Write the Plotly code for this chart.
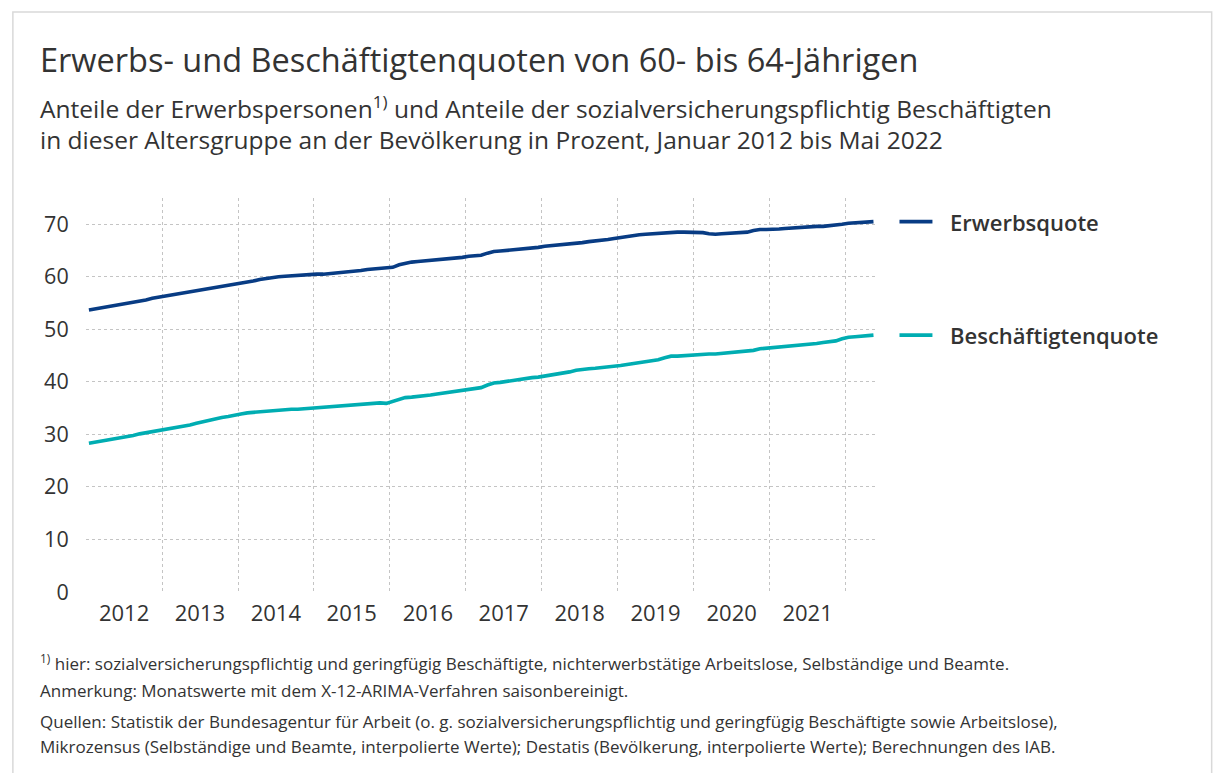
import pandas as pd
import plotly.graph_objects as go

# ---- data (Jan 2012 .. May 2022, monthly, %) ----
erwerbsquote = [
    53.7, 53.9, 54.1, 54.3, 54.5, 54.7, 55.0, 55.2, 55.4, 55.6, 55.9, 56.1,
    56.3, 56.5, 56.7, 56.9, 57.1, 57.3, 57.5, 57.7, 57.9, 58.1, 58.3, 58.5,
    58.7, 59.0, 59.2, 59.5, 59.7, 59.9, 60.0, 60.1, 60.2, 60.3, 60.3, 60.4,
    60.5, 60.5, 60.6, 60.7, 60.8, 60.9, 61.0, 61.2, 61.4, 61.5, 61.6, 61.7,
    61.8, 62.3, 62.6, 62.8, 62.9, 63.0, 63.1, 63.2, 63.4, 63.5, 63.6, 63.7,
    63.9, 64.0, 64.1, 64.5, 64.8, 64.9, 65.0, 65.1, 65.3, 65.4, 65.5, 65.6,
    65.8, 65.9, 66.0, 66.1, 66.3, 66.4, 66.5, 66.7, 66.8, 67.0, 67.1, 67.3,
    67.5, 67.7, 67.8, 68.0, 68.1, 68.2, 68.3, 68.4, 68.5, 68.5, 68.5, 68.5,
    68.5, 68.4, 68.2, 68.1, 68.2, 68.3, 68.3, 68.4, 68.5, 68.8, 69.0, 69.0,
    69.0, 69.1, 69.2, 69.3, 69.4, 69.5, 69.5, 69.6, 69.6, 69.7, 69.8, 70.0,
    70.2, 70.3, 70.4, 70.4, 70.5,
]
beschaeftigtenquote = [
    28.3, 28.5, 28.7, 28.9, 29.2, 29.4, 29.6, 29.8, 30.1, 30.3, 30.5, 30.8,
    31.0, 31.2, 31.4, 31.6, 31.8, 32.1, 32.4, 32.6, 32.9, 33.2, 33.4, 33.7,
    33.9, 34.1, 34.2, 34.4, 34.5, 34.6, 34.7, 34.7, 34.8, 34.8, 34.9, 35.0,
    35.0, 35.1, 35.2, 35.3, 35.4, 35.5, 35.6, 35.8, 35.9, 36.0, 36.0, 35.9,
    36.3, 36.7, 37.0, 37.1, 37.2, 37.4, 37.5, 37.7, 37.9, 38.1, 38.3, 38.4,
    38.6, 38.8, 38.9, 39.4, 39.8, 39.9, 40.1, 40.3, 40.4, 40.6, 40.8, 40.9,
    41.1, 41.3, 41.4, 41.6, 41.9, 42.2, 42.4, 42.5, 42.6, 42.7, 42.9, 43.0,
    43.1, 43.3, 43.5, 43.7, 43.8, 44.0, 44.2, 44.6, 44.9, 44.9, 45.0, 45.1,
    45.1, 45.2, 45.3, 45.3, 45.4, 45.5, 45.6, 45.7, 45.8, 46.0, 46.3, 46.4,
    46.5, 46.6, 46.7, 46.8, 46.9, 47.1, 47.2, 47.3, 47.5, 47.6, 47.8, 48.2,
    48.5, 48.6, 48.7, 48.8, 48.9,
]
series_names = ["Erwerbsquote", "Beschäftigtenquote"]
y_ticks = [0, 10, 20, 30, 40, 50, 60, 70]
year_labels = ["2012", "2013", "2014", "2015", "2016", "2017", "2018", "2019", "2020", "2021"]

months = pd.date_range("2012-01-01", periods=len(erwerbsquote), freq="MS") + pd.Timedelta(days=14)
year_label_pos = [f"{y}-07-02" for y in year_labels]

# ---- styling / layout (page pixel coordinates, figure sits at an 8px body margin) ----
OFF = 8
W, H = 1222 - 2 * OFF, 781 - 2 * OFF
L, R, T, B = 85.7 - OFF, 877.5 - OFF, 198.3 - OFF, 591.7 - OFF
FONT = "Open Sans"
TXT = "#333333"
GRID = "#c4c4c4"
COLORS = ["#083c84", "#00adb2"]


def px(x):
    return (x - OFF - L) / (R - L)


def py(y):
    return (B - (y - OFF)) / (B - T)


fig = go.Figure()
for name, vals, col in zip(series_names, [erwerbsquote, beschaeftigtenquote], COLORS):
    fig.add_trace(go.Scatter(x=months, y=vals, mode="lines", name=name,
                             line=dict(color=col, width=3.6), showlegend=False))
    # end-label legend
    fig.add_shape(type="line", xref="paper", yref="y", x0=px(900), x1=px(933),
                  y0=vals[-1], y1=vals[-1], line=dict(color=col, width=3.6))
    fig.add_annotation(xref="paper", yref="y", x=px(949), y=vals[-1], text=name,
                       showarrow=False, xanchor="left", yanchor="middle",
                       font=dict(family=FONT, size=22, color=TXT, weight=600))

texts = [
    (60, "Erwerbs- und Beschäftigtenquoten von 60- bis 64-Jährigen", 32.5),
    (108, "Anteile der Erwerbspersonen<sup>1)</sup> und Anteile der sozialversicherungspflichtig Beschäftigten", 24.5),
    (140, "in dieser Altersgruppe an der Bevölkerung in Prozent, Januar 2012 bis Mai 2022", 24.5),
    (662, "<sup>1)</sup> hier: sozialversicherungspflichtig und geringfügig Beschäftigte, nichterwerbstätige Arbeitslose, Selbständige und Beamte.", 17),
    (690, "Anmerkung: Monatswerte mit dem X-12-ARIMA-Verfahren saisonbereinigt.", 17),
    (721, "Quellen: Statistik der Bundesagentur für Arbeit (o. g. sozialversicherungspflichtig und geringfügig Beschäftigte sowie Arbeitslose),", 17),
    (746, "Mikrozensus (Selbständige und Beamte, interpolierte Werte); Destatis (Bevölkerung, interpolierte Werte); Berechnungen des IAB.", 17),
]
for yy, t, s in texts:
    fig.add_annotation(xref="paper", yref="paper", x=px(38), y=py(yy), text=t,
                       showarrow=False, xanchor="left", yanchor="middle",
                       font=dict(family=FONT, size=s, color=TXT))

# outer frame
fig.add_shape(type="rect", xref="paper", yref="paper", x0=px(12.5), x1=px(1212.5),
              y0=py(800), y1=py(12.5), line=dict(color="#d9d9d9", width=1.5),
              fillcolor="rgba(0,0,0,0)", layer="below")

fig.update_layout(
    width=W, height=H,
    margin=dict(l=L, r=W - R, t=T, b=H - B, pad=0),
    paper_bgcolor="white", plot_bgcolor="white",
    font=dict(family=FONT, color=TXT),
)
fig.update_xaxes(
    type="date", range=["2012-01-01", "2022-06-01"],
    tickvals=year_label_pos, ticktext=year_labels,
    showgrid=False,
    ticks="outside", ticklen=2, tickcolor="rgba(0,0,0,0)",
    tickfont=dict(family=FONT, size=22, color=TXT),
    minor=dict(tick0="2012-01-01", dtick="M12", showgrid=True, griddash="dot",
               gridcolor=GRID, gridwidth=1, ticks=""),
    showline=False, zeroline=False,
)
fig.update_yaxes(
    range=[0, 75], tickvals=y_ticks, ticktext=[str(v) for v in y_ticks],
    showgrid=True, griddash="dot", gridcolor=GRID, gridwidth=1,
    ticks="outside", ticklen=12, tickcolor="rgba(0,0,0,0)",
    tickfont=dict(family=FONT, size=21.5, color=TXT),
    minor=dict(tickvals=[75], showgrid=True, griddash="dot", gridcolor=GRID,
               gridwidth=1, ticks=""),
    showline=False, zeroline=False,
)

fig.write_html("out.html")
